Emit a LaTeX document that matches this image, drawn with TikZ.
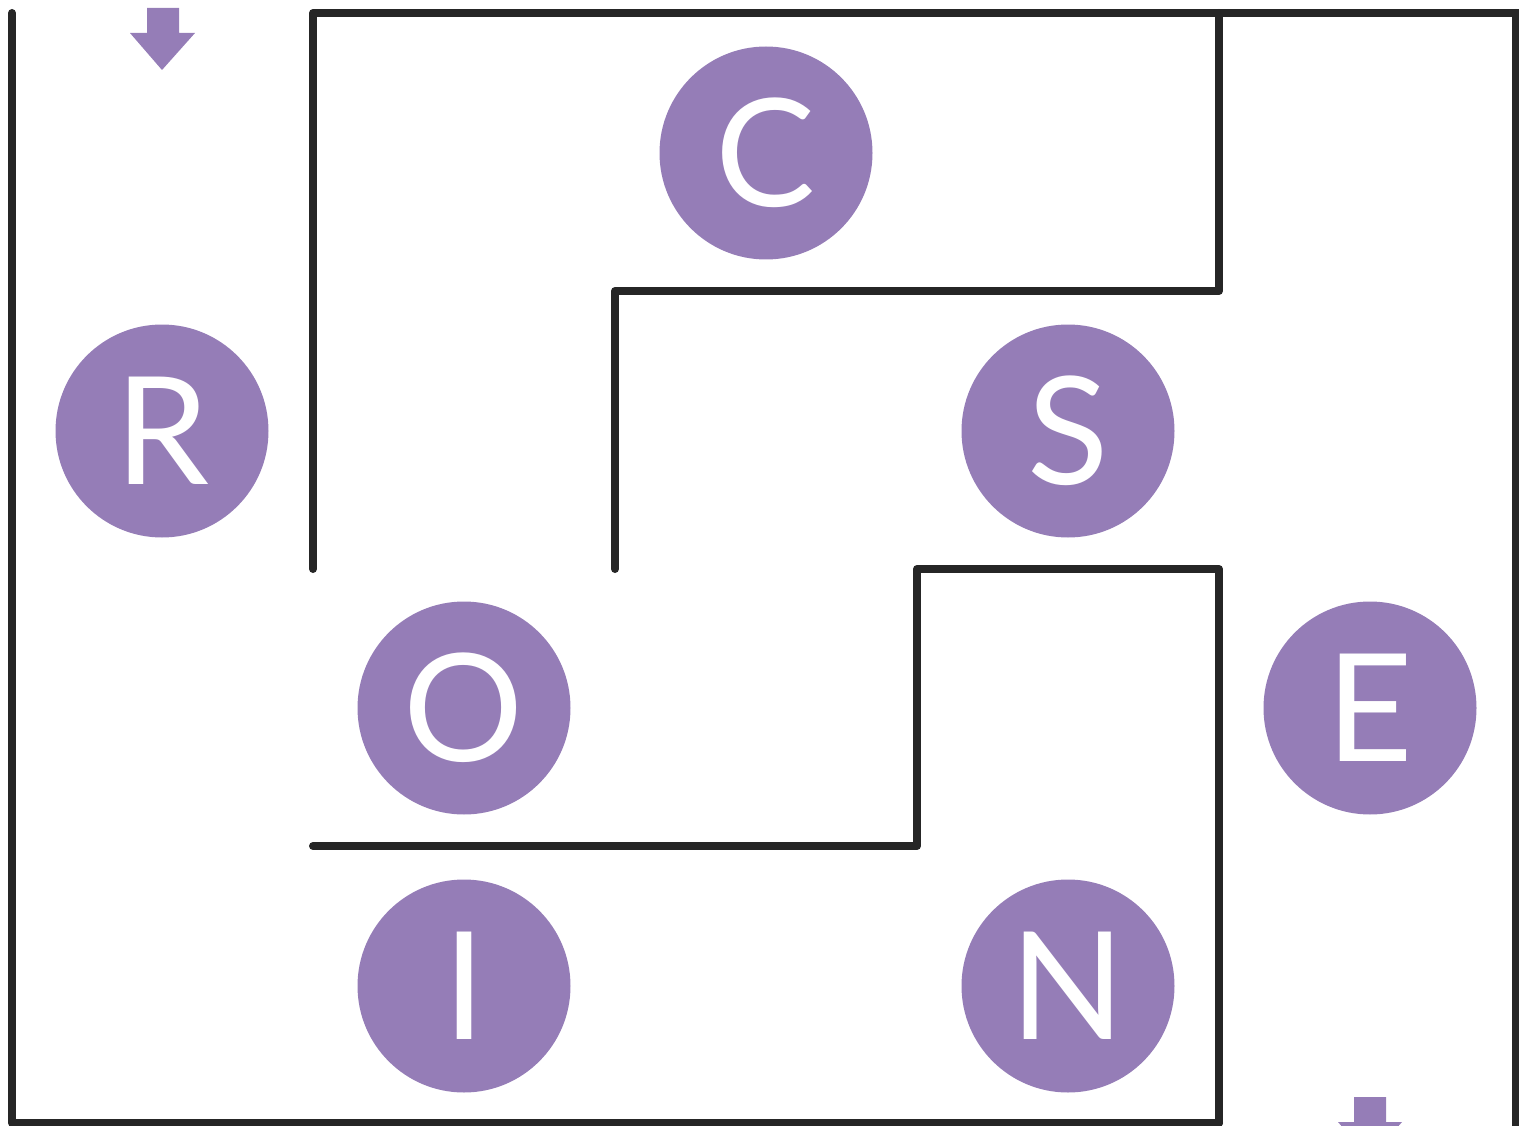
\documentclass[tikz,border=0pt]{standalone}
\usepackage{fontspec}
\setmainfont{Lato}
\begin{document}
\begin{tikzpicture}[x=1pt,y=-1pt,
  wall/.style={draw=wallc,line width=8pt,line cap=round,line join=round},
  letter/.style={circle,fill=lav,minimum size=213pt,inner sep=0pt,text=white,font=\fontsize{150}{150}\selectfont},
  arrowmark/.style={fill=lav}]
\definecolor{wallc}{HTML}{262626}
\definecolor{lav}{HTML}{957DB7}
\useasboundingbox (0,0) rectangle (1519,1126);
\clip (0,0) rectangle (1519,1126);
% letters
\node[letter] (c) at (766,153) {C};
\node[letter] (r) at (162,431) {R};
\node[letter] (s) at (1068,431) {S};
\node[letter] (o) at (464,708) {O};
\node[letter] (e) at (1370,708) {E};
\node[letter] (i) at (464,986) {I};
\node[letter] (n) at (1068,986) {N};
% walls
\draw[wall] (12,13) -- (12,1123) -- (1219,1123);
\draw[wall] (313,569) -- (313,13) -- (1525,13);
\draw[wall] (1516,13) -- (1516,1135);
\draw[wall] (615,569) -- (615,291) -- (1219,291) -- (1219,13);
\draw[wall] (313,846) -- (917,846) -- (917,569) -- (1219,569) -- (1219,1123);
% arrows
\fill[arrowmark] (147,8) -- (179,8) -- (179,33) -- (195,33) -- (162,70) -- (130,33) -- (147,33) -- cycle;
\fill[arrowmark] (1354,1097) -- (1386,1097) -- (1386,1122) -- (1402,1122) -- (1370,1159) -- (1338,1122) -- (1354,1122) -- cycle;
\end{tikzpicture}
\end{document}
